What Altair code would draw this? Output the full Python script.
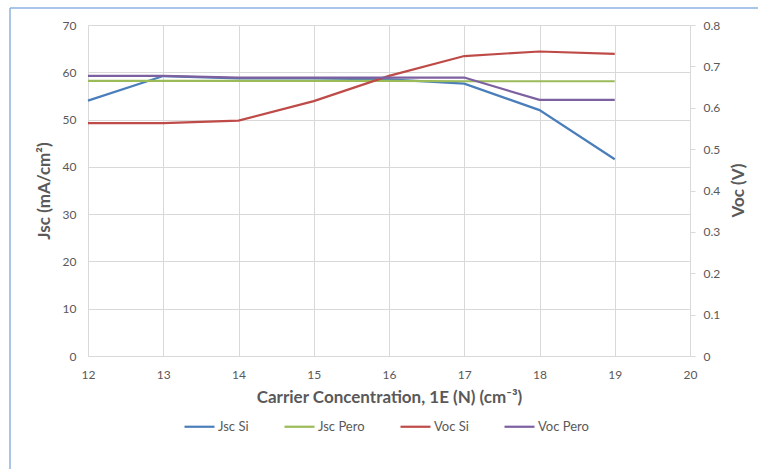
import altair as alt
import pandas as pd

x_vals = [12, 13, 14, 15, 16, 17, 18, 19]
jsc_si = [54.0, 59.2, 58.7, 58.7, 58.5, 57.6, 52.0, 41.6]
jsc_pero = [58.2, 58.2, 58.2, 58.2, 58.2, 58.1, 58.1, 58.1]
voc_si = [0.563, 0.563, 0.569, 0.616, 0.677, 0.725, 0.736, 0.730]
voc_pero = [0.677, 0.677, 0.673, 0.673, 0.673, 0.673, 0.619, 0.619]

series_names = ["Jsc Si", "Jsc Pero", "Voc Si", "Voc Pero"]
series_colors = ["#4A7EBB", "#9BBB59", "#BE4B48", "#7D60A0"]

rows = []
for name, vals, kind in [("Jsc Si", jsc_si, "jsc"), ("Jsc Pero", jsc_pero, "jsc"),
                         ("Voc Si", voc_si, "voc"), ("Voc Pero", voc_pero, "voc")]:
    for xv, v in zip(x_vals, vals):
        rows.append({"N": xv, "value": v, "series": name, "kind": kind})
df = pd.DataFrame(rows)

FONT = "Lato"
GRAY = "#595959"
GRID = "#D9D9D9"

color = alt.Color(
    "series:N",
    scale=alt.Scale(domain=series_names, range=series_colors),
    legend=alt.Legend(
        title=None, orient="none", direction="horizontal",
        legendX=95, legendY=385,
        symbolType="stroke", symbolSize=900, symbolStrokeWidth=2.2,
        labelFont=FONT, labelFontSize=13, labelColor=GRAY, labelOffset=2,
        columnPadding=31,
    ),
)

xenc = alt.X(
    "N:Q",
    scale=alt.Scale(domain=[12, 20], nice=False),
    axis=alt.Axis(
        values=list(range(12, 21)), title="Carrier Concentration, 1E (N) (cm⁻³)",
        grid=True, gridColor=GRID, domainColor=GRID, ticks=False,
        labelPadding=13, titlePadding=9, labelFlush=False,
    ),
)

jsc = alt.Chart(df).transform_filter(alt.datum.kind == "jsc").mark_line(strokeWidth=2.2).encode(
    x=xenc,
    y=alt.Y(
        "value:Q",
        scale=alt.Scale(domain=[0, 70], nice=False),
        axis=alt.Axis(
            values=list(range(0, 71, 10)), title="Jsc (mA/cm²)",
            grid=True, gridColor=GRID, domain=False, ticks=False,
            labelPadding=12, titlePadding=9, labelFlush=False,
        ),
    ),
    color=color,
)

voc = alt.Chart(df).transform_filter(alt.datum.kind == "voc").mark_line(strokeWidth=2.2).encode(
    x=xenc,
    y=alt.Y(
        "value:Q",
        scale=alt.Scale(domain=[0, 0.8], nice=False),
        axis=alt.Axis(
            orient="right", values=[0, 0.1, 0.2, 0.3, 0.4, 0.5, 0.6, 0.7, 0.8],
            labelExpr="datum.value == 0 ? '0' : format(datum.value, '.1f')",
            title="Voc (V)", grid=False, domainColor=GRID, tickColor=GRID,
            tickSize=5, labelPadding=8, labelFlush=False,
            titleAngle=270, titleBaseline="middle", titleAlign="center",
            titleX=48, titleY=165,
        ),
    ),
    color=color,
)

one = alt.Data(values=[{"a": 1}])
border_left = alt.Chart(one).mark_rule(color="#8DB3E2", strokeWidth=1.5).encode(
    x=alt.value(-78), y=alt.value(-17), y2=alt.value(460)
)
border_top = alt.Chart(one).mark_rule(color="#8DB3E2", strokeWidth=1.5).encode(
    x=alt.value(-78), x2=alt.value(700), y=alt.value(-17)
)

chart = alt.layer(jsc, voc, border_left, border_top).resolve_scale(
    y="independent"
).properties(
    width=602, height=331,
    autosize=alt.AutoSizeParams(type="none"),
    padding={"left": 88, "top": 25, "right": 68, "bottom": 113},
    background="white",
).configure_view(
    stroke=None
).configure_axis(
    labelFont=FONT, labelFontSize=12, labelColor=GRAY,
    titleFont=FONT, titleFontSize=17, titleColor=GRAY, titleFontWeight="bold",
)

chart.save("out.html", embed_options={"renderer": "svg", "actions": False})
